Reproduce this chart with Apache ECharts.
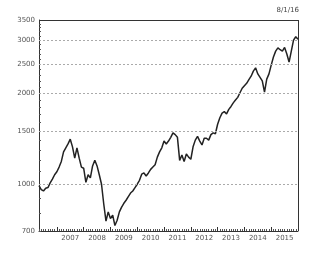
<!DOCTYPE html>
<html>
<head>
<meta charset="utf-8">
<script src="https://cdn.jsdelivr.net/npm/echarts@6/dist/echarts.min.js"></script>
<style>
  html, body { margin: 0; padding: 0; background: #fff; }
  #chart { width: 315px; height: 253px; }
</style>
</head>
<body>
<div id="chart"></div>
<script>
// monthly, May 2006 .. Jan 2016
const months = []
for (let y = 2006; y <= 2016; y++) {
  for (let m = 1; m <= 12; m++) {
    if (y === 2006 && m < 5) continue
    if (y === 2016 && m > 1) continue
    months.push(y + '-' + (m < 10 ? '0' + m : m))
  }
}

const values = [
  990, 960, 950, 970, 975, 1010, 1040, 1075, 1100, 1140,
  1190, 1280, 1320, 1360, 1410, 1330, 1220, 1320, 1220, 1140,
  1130, 1015, 1075, 1050, 1150, 1200, 1150, 1075, 1000, 860,
  755, 810, 770, 790, 730, 760, 810, 840, 865, 885,
  910, 935, 950, 975, 1000, 1030, 1080, 1090, 1065, 1090,
  1120, 1140, 1160, 1230, 1280, 1320, 1390, 1360, 1390, 1430,
  1480, 1460, 1430, 1200, 1250, 1190, 1260, 1230, 1210, 1330,
  1400, 1440, 1390, 1350, 1420, 1420, 1400, 1460, 1480, 1470,
  1580, 1660, 1720, 1740, 1710, 1770, 1810, 1860, 1900, 1940,
  2010, 2080, 2120, 2160, 2220, 2280, 2370, 2430, 2320, 2260,
  2200, 2020, 2230, 2320, 2480, 2640, 2760, 2830, 2790, 2760,
  2840, 2700, 2540, 2760, 3000, 3080, 3020
]

const yLabels = [700, 1000, 1500, 2000, 2500, 3000, 3500]
const gridValues = [1000, 1500, 2000, 2500, 3000]
const yTicks = []
for (let v = 700; v <= 3500; v += 100) yTicks.push(v)

const chart = echarts.init(document.getElementById('chart'))
chart.setOption({
  animation: false,
  grid: { left: 39, right: 17, top: 20, bottom: 22 },
  graphic: [{
    type: 'text', right: 16, top: 7,
    style: { text: '8/1/16', font: '7px "DejaVu Sans"', fill: '#444' }
  }],
  xAxis: [
    {
      type: 'category', data: months, boundaryGap: false, position: 'bottom',
      axisLine: { lineStyle: { color: '#333', width: 1 } },
      axisTick: { inside: true, length: 2, interval: 0, lineStyle: { color: '#555' } },
      axisLabel: {
        interval: (i, v) => v.endsWith('-07') && v > '2007',
        formatter: v => v.slice(0, 4),
        fontSize: 7, color: '#555', margin: 4, fontFamily: 'DejaVu Sans'
      },
      splitLine: { show: false }
    },
    {
      type: 'category', data: months, boundaryGap: false, position: 'bottom',
      axisLine: { show: false },
      axisTick: { inside: true, length: 4, interval: (i, v) => v.endsWith('-01'), lineStyle: { color: '#333' } },
      axisLabel: { show: false }
    }
  ],
  yAxis: {
    type: 'log', min: 700, max: 3500,
    axisLine: { show: true, lineStyle: { color: '#333' } },
    axisTick: { show: true, inside: true, length: 2, customValues: yTicks, lineStyle: { color: '#555' } },
    axisLabel: {
      customValues: yLabels, formatter: v => String(Math.round(v)),
      fontSize: 7, color: '#555', margin: 4, fontFamily: 'DejaVu Sans'
    },
    splitLine: { show: false }
  },
  series: [{
    type: 'line', data: values, showSymbol: false,
    lineStyle: { color: '#222', width: 1.5 },
    markLine: {
      silent: true, symbol: 'none', label: { show: false },
      lineStyle: { color: '#aaa', type: [2, 2], width: 1 },
      data: gridValues.map(v => ({ yAxis: v }))
    }
  }, {
    // plot frame top / right
    type: 'line', data: [], markLine: {
      silent: true, symbol: 'none', label: { show: false },
      lineStyle: { color: '#333', type: 'solid', width: 1 },
      data: [{ yAxis: 3500 }, { xAxis: months[months.length - 1] }]
    }
  }]
})
</script>
</body>
</html>
